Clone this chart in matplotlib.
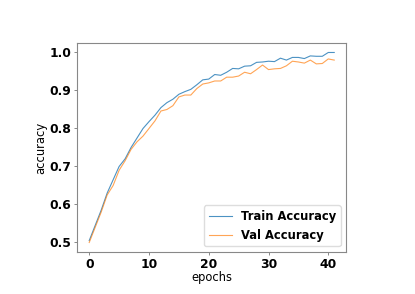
import matplotlib
matplotlib.use("Agg")
import matplotlib.pyplot as plt

epochs = list(range(42))
train_acc = [0.505, 0.545, 0.585, 0.630, 0.665, 0.700, 0.720, 0.750, 0.775, 0.800,
             0.818, 0.835, 0.855, 0.868, 0.877, 0.890, 0.897, 0.903, 0.915, 0.928,
             0.930, 0.942, 0.940, 0.948, 0.958, 0.957, 0.964, 0.965, 0.974, 0.975,
             0.977, 0.976, 0.985, 0.980, 0.987, 0.987, 0.984, 0.991, 0.990, 0.990,
             1.000, 1.000]
val_acc = [0.500, 0.540, 0.580, 0.625, 0.650, 0.690, 0.715, 0.745, 0.765, 0.780,
           0.800, 0.820, 0.846, 0.850, 0.860, 0.883, 0.888, 0.888, 0.905, 0.917,
           0.920, 0.925, 0.925, 0.935, 0.935, 0.938, 0.948, 0.944, 0.955, 0.967,
           0.955, 0.957, 0.958, 0.965, 0.977, 0.975, 0.972, 0.980, 0.970, 0.971,
           0.983, 0.980]
xticks = [0, 10, 20, 30, 40]
yticks = [0.5, 0.6, 0.7, 0.8, 0.9, 1.0]

fig = plt.figure(figsize=(4.15, 2.94), dpi=100)
ax = fig.add_axes([0.1855, 0.1429, 0.6494, 0.7109])
ax.plot(epochs, train_acc, color="#1f77b4", lw=0.8, alpha=0.8, label="Train Accuracy")
ax.plot(epochs, val_acc, color="#ff7f0e", lw=0.8, alpha=0.7, label="Val Accuracy")
ax.set_xticks(xticks)
ax.set_yticks(yticks)
ax.set_xticklabels([str(t) for t in xticks], fontsize=8.9, fontweight="bold")
ax.set_yticklabels([f"{t:.1f}" for t in yticks], fontsize=8.9, fontweight="bold")
ax.set_xlabel("epochs", fontsize=8.3, labelpad=0)
ax.set_ylabel("accuracy", fontsize=8.3, labelpad=2)
for s in ax.spines.values():
    s.set_color("#888888")
    s.set_linewidth(0.8)
ax.tick_params(colors="#888888", labelcolor="black", width=0.7, length=2.5, pad=1.5)
ax.legend(loc="lower right", prop={"weight": "bold", "size": 8.3}, framealpha=1,
          edgecolor="#dddddd", handlelength=2.0)
fig.savefig("out.png", dpi=100)
